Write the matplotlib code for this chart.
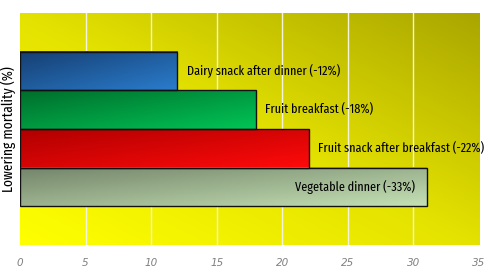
import numpy as np
import matplotlib
matplotlib.use("Agg")
import matplotlib.pyplot as plt
from matplotlib.colors import LinearSegmentedColormap

# data (top to bottom)
labels = ["Dairy snack after dinner (-12%)", "Fruit breakfast (-18%)",
          "Fruit snack after breakfast (-22%)", "Vegetable dinner (-33%)"]
values = [12, 18, 22, 31]
slots = [4, 3, 2, 1]
# dark / light ends of each bar gradient
dark = ["#163f72", "#006e2c", "#b00000", "#74856a"]
light = ["#2a7ccc", "#00c455", "#ff0a0a", "#c4e0b4"]

xticks = [0, 5, 10, 15, 20, 25, 30, 35]

font = ["Fira Sans Extra Condensed", "DejaVu Sans"]

fig = plt.figure(figsize=(4.9, 2.78), dpi=100)
ax = fig.add_axes([20 / 490, 33 / 278, 459 / 490, 232 / 278])
ax.set_xlim(0, 35)
ax.set_ylim(-0.5, 5.5)

# diagonal yellow background gradient
yy, xx = np.mgrid[0:1:100j, 0:1:100j]
bg = LinearSegmentedColormap.from_list("bg", ["#ffff00", "#e4e200", "#aaa600"])
ax.imshow((xx + yy) / 2, cmap=bg, origin="lower", extent=[0, 1, 0, 1],
          transform=ax.transAxes, aspect="auto", zorder=0)

for x in xticks[1:-1]:
    ax.axvline(x, color="#f4f4dc", lw=1, zorder=1)

# dark at top-left, light at bottom-right
r, c = np.mgrid[0:1:50j, 0:1:50j]
grad = (r + c) / 2
for lab, v, s, d, l in zip(labels, values, slots, dark, light):
    cm = LinearSegmentedColormap.from_list("b", [d, l])
    ax.imshow(grad, cmap=cm, origin="upper", extent=[0, v, s - 0.5, s + 0.5],
              aspect="auto", zorder=2)
    ax.barh(s, v, height=1.0, facecolor="none", edgecolor="#111111", lw=1, zorder=3)
    if v > 30:
        ax.text(v - 0.85, s, lab, ha="right", va="center", fontsize=9.5,
                family=font, zorder=4)
    else:
        ax.text(v + 0.7, s, lab, ha="left", va="center", fontsize=9.5,
                family=font, zorder=4, clip_on=False)

ax.set_xticks(xticks)
ax.set_xticklabels([str(t) for t in xticks], fontsize=7.5, style="italic",
                   color="#808080")
ax.tick_params(axis="x", length=0, pad=9)
ax.set_yticks([])
ax.set_ylabel("Lowering mortality (%)", fontsize=10.5, family=font, labelpad=3)
for sp in ax.spines.values():
    sp.set_visible(False)

fig.savefig("out.png", dpi=100)
